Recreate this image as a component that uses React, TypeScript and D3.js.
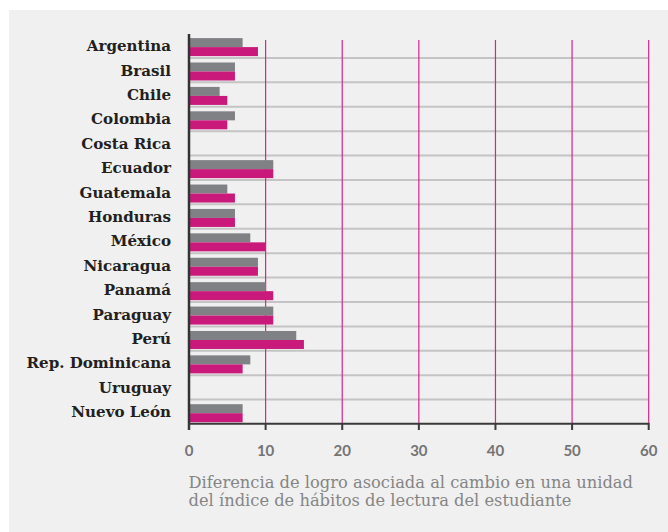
import React from "react";
import * as d3 from "d3";

const categories = ["Argentina","Brasil","Chile","Colombia","Costa Rica","Ecuador","Guatemala","Honduras","México","Nicaragua","Panamá","Paraguay","Perú","Rep. Dominicana","Uruguay","Nuevo León"];
const seriesGray: (number | null)[] = [7,6,4,6,null,11,5,6,8,9,10,11,14,8,null,7];
const seriesPink: (number | null)[] = [9,6,5,5,null,11,6,6,10,9,11,11,15,7,null,7];
const xTicks = [0,10,20,30,40,50,60];
const titleLines = ["Diferencia de logro asociada al cambio en una unidad","del índice de hábitos de lectura del estudiante"];

export default function App() {
  const W = 668, H = 532;
  const x = d3.scaleLinear().domain([0, 60]).range([189, 648.7]);
  const y = d3.scaleBand<string>().domain(categories).range([33.5, 424]).padding(0);
  const bw = y.bandwidth();
  const barH = 9;
  return (
    <svg width={W} height={H} style={{ position: "absolute", left: 0, top: 0 }}>
      <rect x={0} y={0} width={W} height={H} fill="#ffffff" />
      <rect x={9} y={10} width={W - 9} height={H - 10} fill="#f0f0f0" />
      {categories.slice(1).map((c) => (
        <line key={"h" + c} x1={x(0)} x2={x(60)} y1={y(c)!} y2={y(c)!} stroke="#c4c4c4" strokeWidth={2} />
      ))}
      {xTicks.filter((t) => t > 0).map((t) => (
        <line key={"v" + t} x1={x(t)} x2={x(t)} y1={40} y2={424} stroke="#d4268a" strokeWidth={1.2} />
      ))}
      {categories.map((c, i) => {
        const y0 = y(c)!;
        const g = seriesGray[i];
        const p = seriesPink[i];
        return (
          <g key={c}>
            {g != null && <rect x={x(0)} y={y0 + 4.6} width={x(g) - x(0)} height={barH} fill="#808184" />}
            {p != null && <rect x={x(0)} y={y0 + 4.6 + barH} width={x(p) - x(0)} height={barH} fill="#c91a7c" />}
            <text x={171} y={y0 + bw / 2} dy="0.36em" textAnchor="end" fontFamily="'DejaVu Serif', serif" fontWeight="bold" fontSize={15.1} fill="#231f20">{c}</text>
          </g>
        );
      })}
      <line x1={x(0)} x2={x(0)} y1={34} y2={430} stroke="#333333" strokeWidth={2.5} />
      <line x1={x(0)} x2={x(60)} y1={423.7} y2={423.7} stroke="#3a3a3a" strokeWidth={2} />
      {xTicks.map((t) => (
        <g key={"t" + t}>
          <line x1={x(t)} x2={x(t)} y1={423} y2={430} stroke="#3a3a3a" strokeWidth={2} />
          <text x={x(t)} y={450.5} dy="0.36em" textAnchor="middle" fontFamily="Lato, 'Open Sans', sans-serif" fontWeight="bold" fontSize={15} fill="#747474">{t}</text>
        </g>
      ))}
      {titleLines.map((l, i) => (
        <text key={l} x={188.5} y={488.3 + i * 18} fontFamily="'DejaVu Serif', serif" fontSize={16.3} fill="#858585">{l}</text>
      ))}
    </svg>
  );
}
